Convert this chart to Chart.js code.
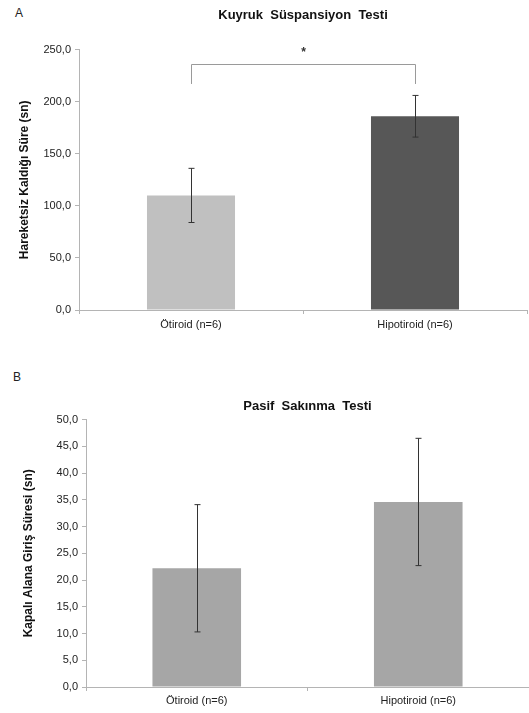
<!DOCTYPE html>
<html>
<head>
<meta charset="utf-8">
<script src="https://cdn.jsdelivr.net/npm/chart.js@4/dist/chart.umd.min.js"></script>
<style>
  body { margin: 0; background: #fff; width: 529px; height: 713px; position: relative; overflow: hidden; font-family: 'Liberation Sans', Arial, sans-serif; }
  .panel { position: absolute; left: 0; width: 529px; }
  .letter { position: absolute; font-size: 12px; color: #222; }
</style>
</head>
<body>
<div class="letter" style="left:15px; top:6px;">A</div>
<div class="letter" style="left:13px; top:370px;">B</div>
<div class="panel" style="top:0; height:345px;"><canvas id="chartA"></canvas></div>
<div class="panel" style="top:345px; height:368px;"><canvas id="chartB"></canvas></div>
<script>
// Data
const groups = ['Ötiroid (n=6)', 'Hipotiroid (n=6)'];

// A: Kuyruk Süspansiyon Testi
const tailMeans = [110.0, 186.0];
const tailErrors = [26.0, 20.0];
const tailColors = ['#c0c0c0', '#575757'];
const tailTicks = [0, 50, 100, 150, 200, 250];
// significance bracket: bar height and foot value, star value
const bracketTop = 236;
const bracketFoot = 217;
const starValue = 250;

// B: Pasif Sakınma Testi
const avoidMeans = [22.2, 34.6];
const avoidErrors = [11.9, 11.9];
const avoidColors = ['#a6a6a6', '#a6a6a6'];
const avoidTicks = [0, 5, 10, 15, 20, 25, 30, 35, 40, 45, 50];

const fontFamily = "'Liberation Sans', Arial, sans-serif";
const axisGray = '#b4b4b4';

const fmt = v => v.toFixed(1).replace('.', ',');

// draws error bars from the dataset's errors array
const errorBars = {
    id: 'errorBars',
    afterDatasetsDraw(chart) {
        const ctx = chart.ctx;
        const y = chart.scales.y;
        const meta = chart.getDatasetMeta(0);
        const ds = chart.data.datasets[0];
        ctx.save();
        ctx.strokeStyle = '#333';
        ctx.lineWidth = 1;
        meta.data.forEach((bar, i) => {
            const x = Math.round(bar.x) + 0.5;
            const hi = y.getPixelForValue(ds.data[i] + ds.errors[i]);
            const lo = y.getPixelForValue(ds.data[i] - ds.errors[i]);
            ctx.beginPath();
            ctx.moveTo(x, hi); ctx.lineTo(x, lo);
            ctx.moveTo(x - 3, hi); ctx.lineTo(x + 3, hi);
            ctx.moveTo(x - 3, lo); ctx.lineTo(x + 3, lo);
            ctx.stroke();
        });
        ctx.restore();
    }
};

// significance bracket with asterisk (panel A only)
const sigBracket = {
    id: 'sigBracket',
    afterDatasetsDraw(chart) {
        const ctx = chart.ctx;
        const x = chart.scales.x, y = chart.scales.y;
        const x1 = Math.round(x.getPixelForValue(0)) + 0.5;
        const x2 = Math.round(x.getPixelForValue(1)) + 0.5;
        const yt = Math.round(y.getPixelForValue(bracketTop)) + 0.5;
        const yf = y.getPixelForValue(bracketFoot);
        ctx.save();
        ctx.strokeStyle = '#9a9a9a';
        ctx.lineWidth = 1;
        ctx.beginPath();
        ctx.moveTo(x1, yf); ctx.lineTo(x1, yt); ctx.lineTo(x2, yt); ctx.lineTo(x2, yf);
        ctx.stroke();
        ctx.fillStyle = '#333';
        ctx.font = 'bold 12px ' + fontFamily;
        ctx.textAlign = 'center';
        ctx.textBaseline = 'middle';
        ctx.fillText('*', (x1 + x2) / 2, y.getPixelForValue(starValue) + 3);
        ctx.restore();
    }
};

function makeChart(id, opt) {
    return new Chart(document.getElementById(id), {
        type: 'bar',
        data: {
            labels: groups,
            datasets: [{
                data: opt.means,
                errors: opt.errors,
                backgroundColor: opt.colors,
                borderWidth: 0,
                barPercentage: opt.barPct,
                categoryPercentage: 1
            }]
        },
        options: {
            responsive: true,
            maintainAspectRatio: false,
            animation: false,
            layout: { padding: { left: 0, right: opt.rightPad, top: 0, bottom: 0 } },
            plugins: {
                legend: { display: false },
                tooltip: { enabled: false },
                title: {
                    display: true,
                    fullSize: false,
                    text: opt.title,
                    color: '#111',
                    font: { family: fontFamily, size: 13, weight: 'bold' },
                    padding: opt.titlePad
                }
            },
            scales: {
                x: {
                    grid: { display: true, drawOnChartArea: false, drawTicks: true, tickLength: 4, color: axisGray },
                    border: { color: axisGray },
                    ticks: { color: '#222', font: { family: fontFamily, size: 11 }, padding: opt.xPad },
                    afterFit: s => { s.height = opt.xHeight; }
                },
                y: {
                    min: opt.ticks[0],
                    max: opt.ticks[opt.ticks.length - 1],
                    afterBuildTicks: s => { s.ticks = opt.ticks.map(v => ({ value: v })); },
                    grid: { display: true, drawOnChartArea: false, drawTicks: true, tickLength: 4, color: axisGray },
                    border: { color: axisGray },
                    ticks: { color: '#222', font: { family: fontFamily, size: 11 }, padding: 4, callback: v => fmt(v) },
                    title: {
                        display: true,
                        text: opt.yTitle,
                        color: '#111',
                        font: { family: fontFamily, size: 12, weight: 'bold' },
                        padding: { top: opt.yTitlePad, bottom: 0 }
                    },
                    afterFit: s => { s.width = opt.yWidth; }
                }
            }
        },
        plugins: opt.plugins
    });
}

makeChart('chartA', {
    means: tailMeans, errors: tailErrors, colors: tailColors, barPct: 0.393,
    title: 'Kuyruk  Süspansiyon  Testi', titlePad: { top: 8, bottom: 26 },
    yTitle: 'Hareketsiz Kaldığı Süre (sn)', yTitlePad: 17,
    ticks: tailTicks, yWidth: 79, xHeight: 35, xPad: 4, rightPad: 2,
    plugins: [errorBars, sigBracket]
});

makeChart('chartB', {
    means: avoidMeans, errors: avoidErrors, colors: avoidColors, barPct: 0.4,
    title: 'Pasif  Sakınma  Testi', titlePad: { top: 54, bottom: 5 },
    yTitle: 'Kapalı Alana Giriş Süresi (sn)', yTitlePad: 21,
    ticks: avoidTicks, yWidth: 86, xHeight: 26, xPad: 3, rightPad: 0,
    plugins: [errorBars]
});
</script>
</body>
</html>
